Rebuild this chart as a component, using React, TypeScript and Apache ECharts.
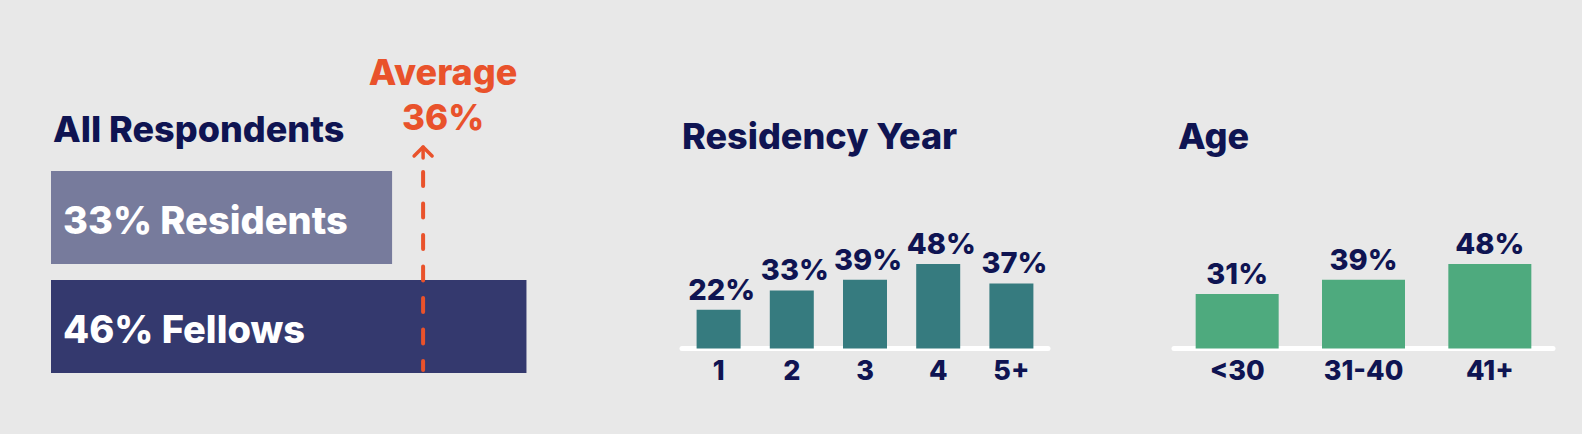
import React, { useEffect, useRef } from "react";
import * as echarts from "echarts";

const groupCategories = ["Residents", "Fellows"];
const groupValues = [33, 46];
const averageValue = 36;

const yearCategories = ["1", "2", "3", "4", "5+"];
const yearValues = [22, 33, 39, 48, 37];

const ageCategories = ["<30", "31-40", "41+"];
const ageValues = [31, 39, 48];

const NAVY = "#0f1452";
const ORANGE = "#e9522b";
const BG = "#e8e8e8";
const FONT = "Inter";
const W = 800;

export default function App() {
  const ref = useRef<HTMLDivElement>(null);
  useEffect(() => {
    document.body.style.margin = "0";
    const chart = echarts.init(ref.current!, undefined, { renderer: "svg" });
    const catLabel = {
      color: NAVY,
      fontFamily: FONT,
      fontWeight: W,
      fontSize: 27,
      margin: 8,
    };
    const topLabel = {
      show: true,
      position: "top" as const,
      distance: 6,
      color: NAVY,
      fontFamily: FONT,
      fontWeight: W,
      fontSize: 29,
      formatter: (p: any) => `${p.value}%`,
    };
    chart.setOption({
      animation: false,
      backgroundColor: BG,
      grid: [
        { left: 51, top: 163, width: 615, height: 218 },
        { left: 682, top: 172.5, width: 366, height: 176 },
        { left: 1174, top: 172.5, width: 379, height: 176 },
      ],
      xAxis: [
        { type: "value", gridIndex: 0, min: 0, max: 59.5, show: false },
        {
          type: "category",
          gridIndex: 1,
          data: yearCategories,
          axisLine: { lineStyle: { color: "#ffffff", width: 5 } },
          axisTick: { show: false },
          axisLabel: catLabel,
        },
        {
          type: "category",
          gridIndex: 2,
          data: ageCategories,
          axisLine: { lineStyle: { color: "#ffffff", width: 5 } },
          axisTick: { show: false },
          axisLabel: catLabel,
        },
      ],
      yAxis: [
        { type: "category", gridIndex: 0, data: groupCategories, inverse: true, show: false },
        { type: "value", gridIndex: 1, min: 0, max: 100, show: false },
        { type: "value", gridIndex: 2, min: 0, max: 100, show: false },
      ],
      series: [
        {
          type: "bar",
          xAxisIndex: 0,
          yAxisIndex: 0,
          barWidth: 93,
          data: groupValues.map((v, i) => ({
            value: v,
            itemStyle: { color: i === 0 ? "#777b9c" : "#34396e" },
          })),
          label: {
            show: true,
            position: "insideLeft",
            distance: 12,
            offset: [0, 2],
            color: "#ffffff",
            fontFamily: FONT,
            fontWeight: W,
            fontSize: 38,
            formatter: (p: any) => `${p.value}% ${p.name}`,
          },
        },
        {
          type: "bar",
          xAxisIndex: 1,
          yAxisIndex: 1,
          barWidth: 44,
          data: yearValues,
          itemStyle: { color: "#367b7f" },
          label: { ...topLabel, offset: [3, 0] },
        },
        {
          type: "bar",
          xAxisIndex: 2,
          yAxisIndex: 2,
          barWidth: 83,
          data: ageValues,
          itemStyle: { color: "#4eaa7e" },
          label: topLabel,
        },
      ],
    });

    const lx = chart.convertToPixel({ xAxisIndex: 0 }, averageValue) as number;
    const titleStyle = (text: string, x: number, y: number) => ({
      type: "text",
      x,
      y,
      style: {
        text,
        fill: NAVY,
        font: `${W} 36px ${FONT}`,
        verticalAlign: "middle",
      },
    });
    chart.setOption({
      graphic: [
        titleStyle("All Respondents", 53, 129),
        titleStyle("Residency Year", 682, 136),
        titleStyle("Age", 1178, 136),
        {
          type: "text",
          x: lx + 20,
          y: 72,
          style: {
            text: "Average",
            fill: ORANGE,
            font: `${W} 36px ${FONT}`,
            align: "center",
            verticalAlign: "middle",
          },
        },
        {
          type: "text",
          x: lx + 20,
          y: 117,
          style: {
            text: `${averageValue}%`,
            fill: ORANGE,
            font: `${W} 35px ${FONT}`,
            align: "center",
            verticalAlign: "middle",
          },
        },
        {
          type: "line",
          shape: { x1: lx, y1: 172, x2: lx, y2: 370 },
          style: { stroke: ORANGE, lineWidth: 4, lineDash: [14, 17.5], lineCap: "round" },
          z: 100,
        },
        {
          type: "line",
          shape: { x1: lx, y1: 147, x2: lx, y2: 158 },
          style: { stroke: ORANGE, lineWidth: 3.5, lineCap: "round" },
          z: 100,
        },
        {
          type: "polyline",
          shape: { points: [[lx - 9, 156], [lx, 147], [lx + 9, 156]] },
          style: { stroke: ORANGE, lineWidth: 3.5, fill: null, lineCap: "round", lineJoin: "round" },
          z: 100,
        },
      ],
    });
    return () => chart.dispose();
  }, []);
  return <div ref={ref} style={{ width: 1582, height: 434 }} />;
}
